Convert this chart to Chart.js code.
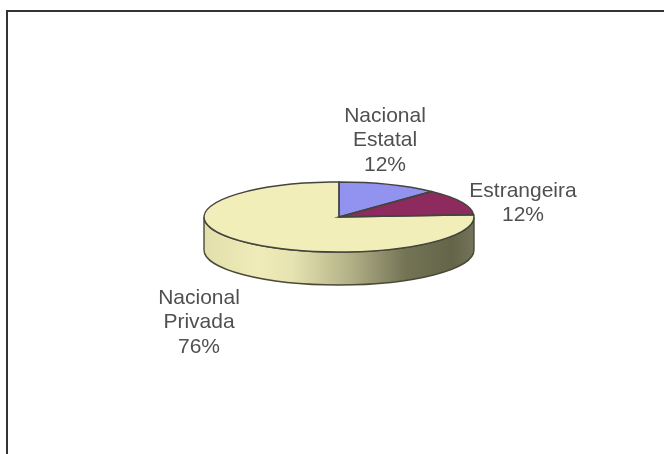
<!DOCTYPE html>
<html>
<head>
    <meta charset="UTF-8">
    <title>Nacional / Estrangeira</title>
    <script src="https://cdn.jsdelivr.net/npm/chart.js"></script>
    <style>
        html, body { margin: 0; padding: 0; background: #fff; overflow: hidden; }
        #frame { position: absolute; left: 0; top: 0; width: 664px; height: 454px; filter: blur(0.6px); }
        #frame:before { content: ""; position: absolute; left: 6px; top: 10px; right: 0; bottom: 0;
                        border-left: 2px solid #333; border-top: 2px solid #333; }
        canvas { position: absolute; left: 0; top: 0; }
    </style>
</head>
<body>
    <div id="frame"><canvas id="pieChart" width="664" height="454"></canvas></div>

    <script>
        // Values
        const categories = ['Nacional Estatal', 'Estrangeira', 'Nacional Privada'];
        const shares = [12, 12, 76];
        const sliceColors = ['#9292f0', '#8e2b5e', '#f1eeb9'];

        // Label centres, one per category
        const labelX = [385, 523, 199];
        const labelY = [116, 191, 298];
        const lineGap = 24.5;

        const squash = 35 / 135;  // flattening of the pie
        const depth = 33;         // height of the side wall

        const pie3d = {
            id: 'pie3d',
            beforeDatasetsDraw(chart) {
                const ctx = chart.ctx;
                const arc = chart.getDatasetMeta(0).data[0];
                const rx = arc.outerRadius, ry = rx * squash;

                // side wall, only the front half shows
                const grad = ctx.createLinearGradient(arc.x - rx, 0, arc.x + rx, 0);
                grad.addColorStop(0, '#e2dfad');
                grad.addColorStop(0.2, '#efecb9');
                grad.addColorStop(0.33, '#e6e3b1');
                grad.addColorStop(0.55, '#b0ae84');
                grad.addColorStop(0.75, '#737355');
                grad.addColorStop(0.92, '#646449');
                grad.addColorStop(1, '#74745a');
                ctx.beginPath();
                ctx.ellipse(arc.x, arc.y, rx, ry, 0, 0, Math.PI);
                ctx.ellipse(arc.x, arc.y + depth, rx, ry, 0, Math.PI, 0, true);
                ctx.closePath();
                ctx.fillStyle = grad;
                ctx.fill();
                ctx.strokeStyle = '#4a4a36';
                ctx.lineWidth = 1.4;
                ctx.stroke();

                // flatten the slices the library draws next
                ctx.save();
                ctx.translate(arc.x, arc.y);
                ctx.scale(1, squash);
                ctx.translate(-arc.x, -arc.y);
            },
            afterDatasetsDraw(chart) {
                const ctx = chart.ctx;
                ctx.restore();

                // outlines here so the stroke is not squashed too
                chart.getDatasetMeta(0).data.forEach(arc => {
                    ctx.save();
                    ctx.translate(arc.x, arc.y);
                    ctx.scale(1, squash);
                    ctx.beginPath();
                    ctx.moveTo(0, 0);
                    ctx.arc(0, 0, arc.outerRadius, arc.startAngle, arc.endAngle);
                    ctx.closePath();
                    ctx.restore();
                    ctx.strokeStyle = '#44443f';
                    ctx.lineWidth = 1.4;
                    ctx.stroke();
                });

                // labels
                ctx.save();
                ctx.font = '21px "Liberation Sans", Arial, sans-serif';
                ctx.fillStyle = '#505050';
                ctx.textAlign = 'center';
                ctx.textBaseline = 'middle';
                categories.forEach((name, i) => {
                    const lines = name.split(' ').concat(shares[i] + '%');
                    lines.forEach((line, k) => {
                        ctx.fillText(line, labelX[i], labelY[i] + k * lineGap);
                    });
                });
                ctx.restore();
            }
        };

        new Chart(document.getElementById('pieChart').getContext('2d'), {
            type: 'pie',
            data: {
                labels: categories,
                datasets: [{
                    data: shares,
                    backgroundColor: sliceColors,
                    borderWidth: 0
                }]
            },
            options: {
                responsive: false,
                animation: false,
                layout: { padding: { left: 204, right: 190, top: 82, bottom: 102 } },
                plugins: { legend: { display: false }, tooltip: { enabled: false } }
            },
            plugins: [pie3d]
        });
    </script>
</body>
</html>
